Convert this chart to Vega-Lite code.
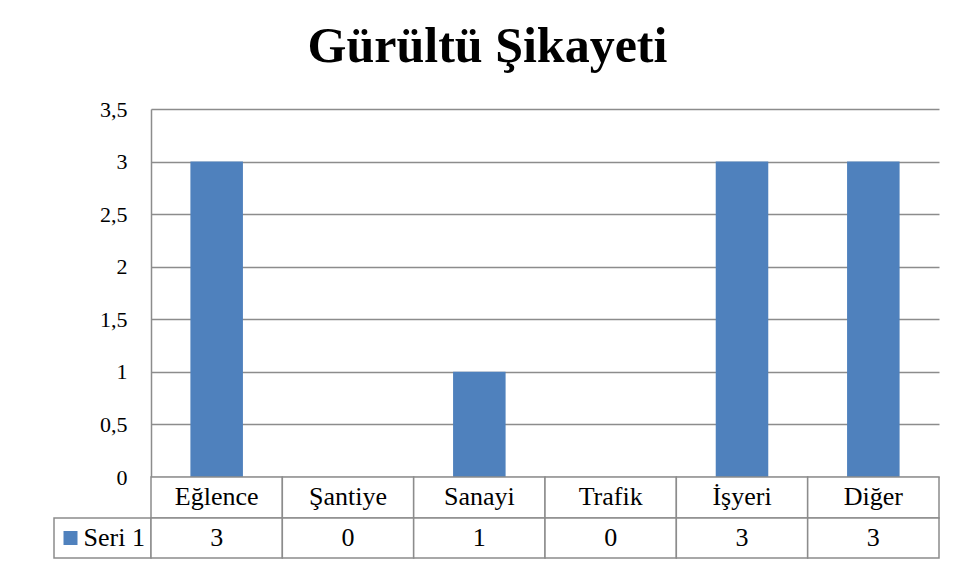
{
  "$schema": "https://vega.github.io/schema/vega-lite/v6.json",
  "padding": {"left": 53, "top": 22, "right": 0, "bottom": 0},
  "background": "white",
  "title": {"text": "Gürültü Şikayeti", "font": "Liberation Serif", "fontSize": 50, "fontWeight": "bold", "color": "#000000", "anchor": "middle", "dx": -9, "offset": 26},
  "config": {"view": {"stroke": null}, "font": "Liberation Serif", "axis": {"labelFont": "Liberation Serif"}, "text": {"font": "Liberation Serif"}},
  "datasets": {
    "d": [
      {"kategori": "Eğlence", "deger": 3},
      {"kategori": "Şantiye", "deger": 0},
      {"kategori": "Sanayi", "deger": 1},
      {"kategori": "Trafik", "deger": 0},
      {"kategori": "İşyeri", "deger": 3},
      {"kategori": "Diğer", "deger": 3}
    ],
    "seri": [{"seri": "Seri 1"}]
  },
  "columns": 2,
  "spacing": 0,
  "bounds": "flush",
  "align": "each",
  "concat": [
    {"width": 97, "height": 368, "data": {"values": [{}]}, "mark": {"type": "text", "text": ""}, "encoding": {}},
    {
      "width": 788, "height": 368,
      "data": {"name": "d"},
      "mark": {"type": "bar", "color": "#4F81BD", "width": {"band": 0.4}},
      "encoding": {
        "x": {"field": "kategori", "type": "nominal", "sort": null, "scale": {"paddingInner": 0, "paddingOuter": 0}, "axis": null},
        "y": {"field": "deger", "type": "quantitative", "scale": {"domain": [0, 3.5]},
          "axis": {"values": [0, 0.5, 1, 1.5, 2, 2.5, 3, 3.5], "title": null, "labelExpr": "replace(format(datum.value, '~g'), '.', ',')", "labelFont": "Liberation Serif", "labelFontSize": 22, "labelColor": "#000000", "labelPadding": 24, "ticks": false, "domainColor": "#8c8c8c", "domainWidth": 1.5, "grid": true, "gridColor": "#8c8c8c", "gridWidth": 1.5}}
      }
    },
    {"width": 97, "height": 41, "data": {"values": [{}]}, "mark": {"type": "text", "text": ""}, "encoding": {}},
    {
      "width": 788, "height": 41,
      "data": {"name": "d"},
      "encoding": {"x": {"field": "kategori", "type": "nominal", "sort": null, "scale": {"paddingInner": 0, "paddingOuter": 0}, "axis": null}},
      "layer": [
        {"mark": {"type": "rect", "fill": "white", "stroke": "#8c8c8c", "strokeWidth": 1.5}},
        {"mark": {"type": "text", "font": "Liberation Serif", "fontSize": 26, "color": "#000000", "dy": -1}, "encoding": {"text": {"field": "kategori"}}}
      ]
    },
    {
      "width": 97, "height": 40,
      "data": {"name": "seri"},
      "layer": [
        {"mark": {"type": "rect", "fill": "white", "stroke": "#8c8c8c", "strokeWidth": 1.5}, "encoding": {}},
        {"mark": {"type": "point", "shape": "square", "filled": true, "color": "#4F81BD", "size": 196, "opacity": 1}, "encoding": {"xOffset": {"value": -32}}},
        {"mark": {"type": "text", "font": "Liberation Serif", "fontSize": 26, "color": "#000000", "align": "left", "dx": -19}, "encoding": {"text": {"field": "seri"}}}
      ]
    },
    {
      "width": 788, "height": 40,
      "data": {"name": "d"},
      "encoding": {"x": {"field": "kategori", "type": "nominal", "sort": null, "scale": {"paddingInner": 0, "paddingOuter": 0}, "axis": null}},
      "layer": [
        {"mark": {"type": "rect", "fill": "white", "stroke": "#8c8c8c", "strokeWidth": 1.5}},
        {"mark": {"type": "text", "font": "Liberation Serif", "fontSize": 26, "color": "#000000"}, "encoding": {"text": {"field": "deger"}}}
      ]
    }
  ]
}
